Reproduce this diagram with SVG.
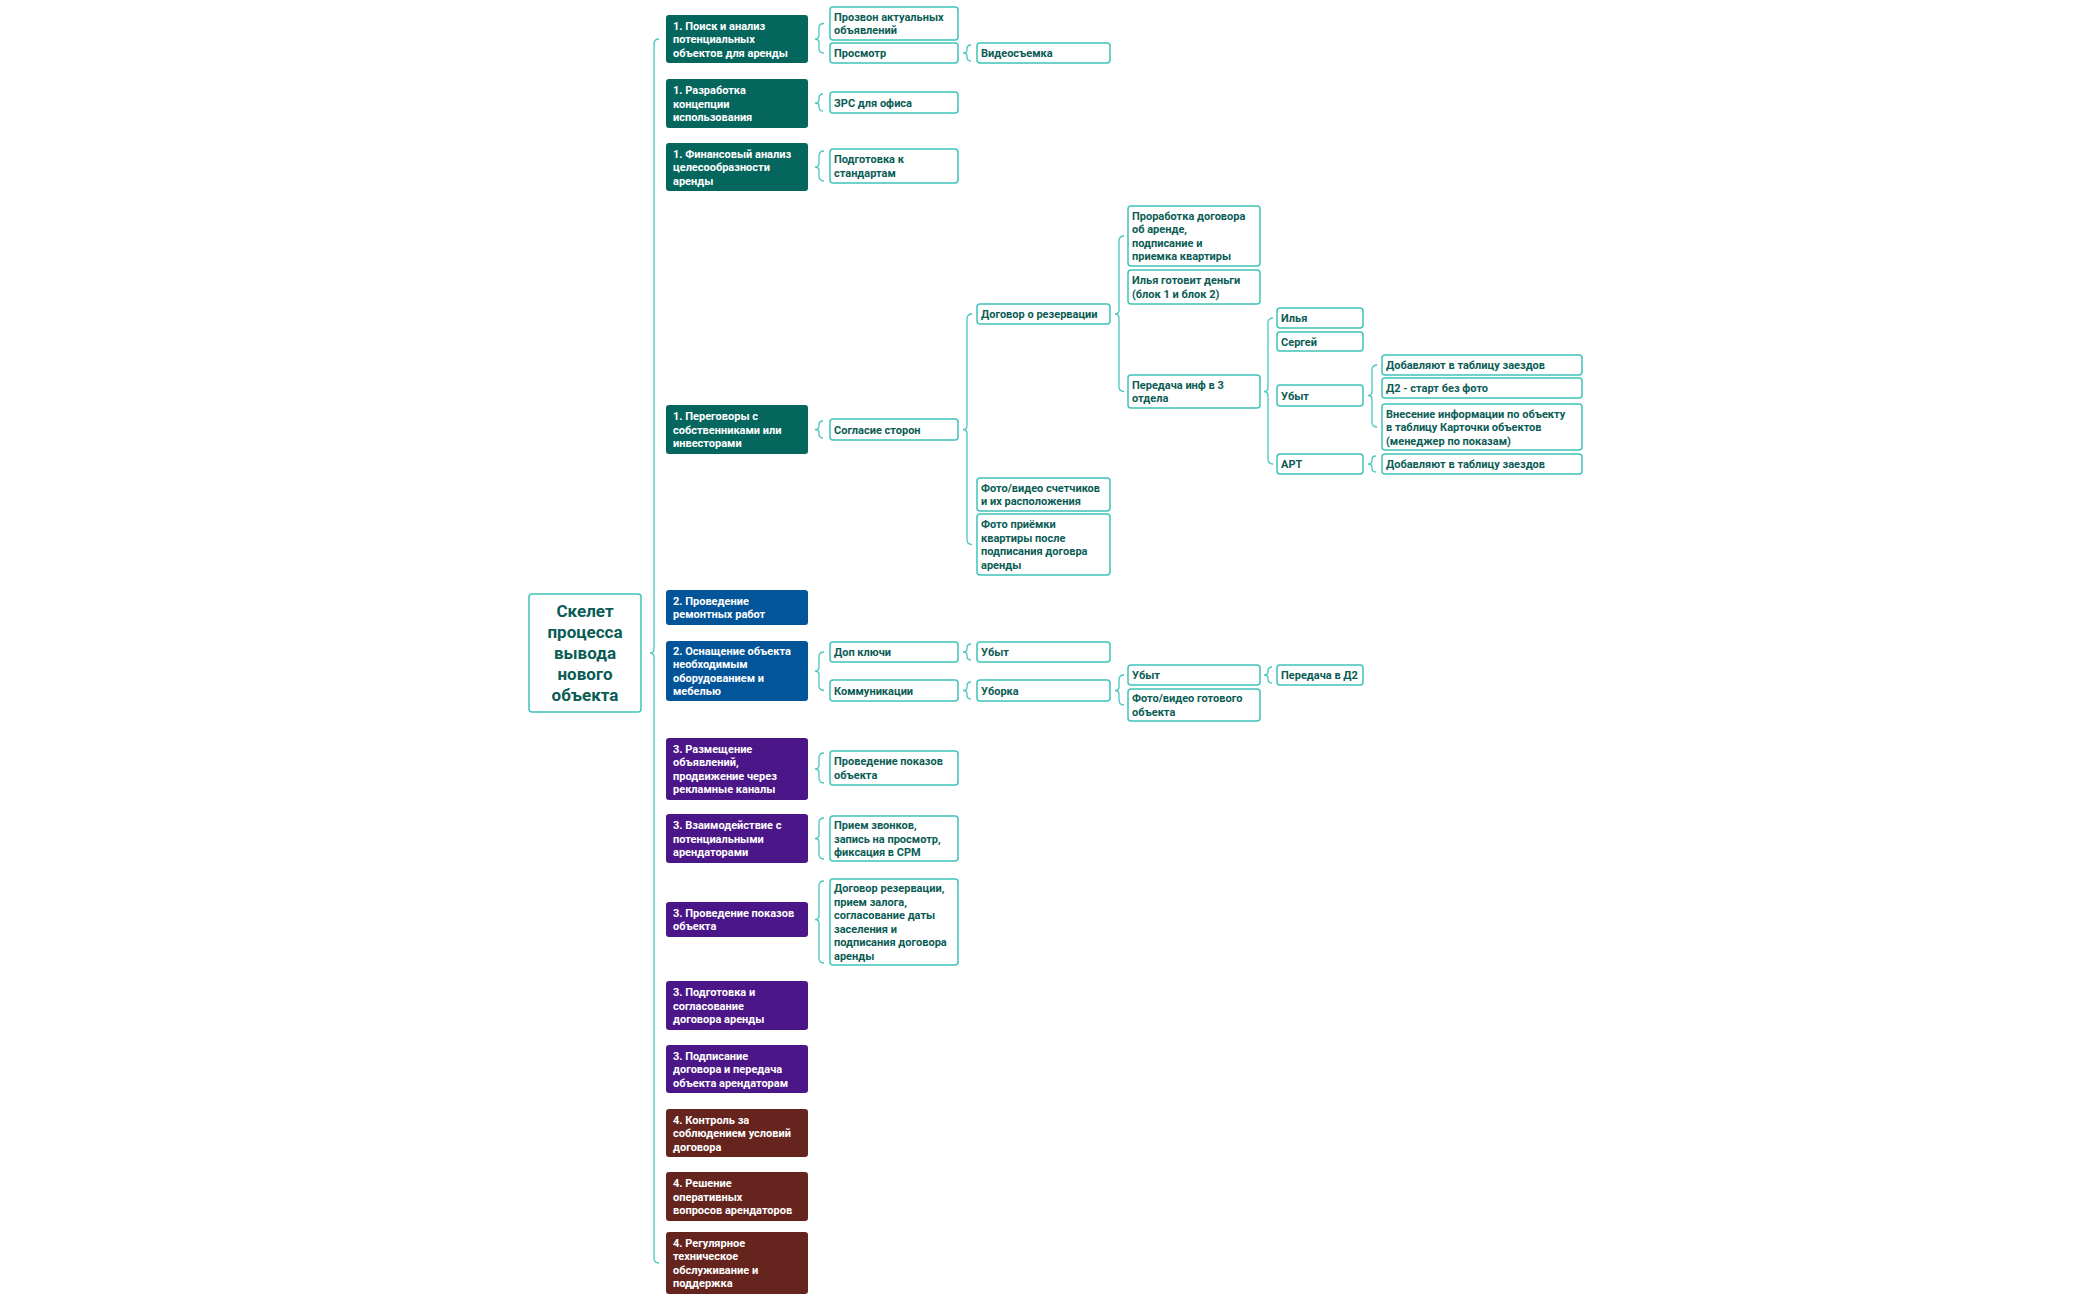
<svg xmlns="http://www.w3.org/2000/svg" width="2100" height="1299" viewBox="0 0 2100 1299">
<style>
.m{stroke:none}
.g{fill:#05665e}.b{fill:#03559a}.p{fill:#4b1688}.r{fill:#65251e}
.c{fill:#fff;stroke:#3fc4bb;stroke-width:1.5}
.mt{font-family:Roboto,"Noto Sans",sans-serif;font-weight:700;font-size:11px;fill:#fff}
.ct{font-family:Roboto,"Noto Sans",sans-serif;font-weight:700;font-size:11px;fill:#0a5c55}
.rt{font-family:Roboto,"Noto Sans",sans-serif;font-weight:700;font-size:17px;fill:#0a5c55}
.br{fill:none;stroke:#45c8be;stroke-width:1.3}
</style>
<rect width="2100" height="1299" fill="#fff"/>
<g id="connectors">
<path class="br" d="M659,39 Q654,39 654,44 L654,649 Q654,653 650,653 Q654,653 654,657 L654,1258 Q654,1263 659,1263"/>
<path class="br" d="M824,23.5 Q819,23.5 819,27.5 L819,35 Q819,39 815,39 Q819,39 819,43 L819,49 Q819,53 824,53"/>
<path class="br" d="M823,94 Q819,94 819,98 L819,100 Q819,103 815,103 Q819,103 819,106 L819,107 Q819,111 823,111"/>
<path class="br" d="M824,151 Q819,151 819,156 L819,163 Q819,167 815,167 Q819,167 819,171 L819,176 Q819,181 824,181"/>
<path class="br" d="M823,421 Q819,421 819,425 L819,426.5 Q819,429.5 815,429.5 Q819,429.5 819,432.5 L819,434 Q819,438 823,438"/>
<path class="br" d="M824,652 Q819,652 819,657 L819,667 Q819,671 815,671 Q819,671 819,675 L819,685.5 Q819,690.5 824,690.5"/>
<path class="br" d="M824,753 Q819,753 819,758 L819,765 Q819,769 815,769 Q819,769 819,773 L819,778 Q819,783 824,783"/>
<path class="br" d="M824,818 Q819,818 819,823 L819,834.5 Q819,838.5 815,838.5 Q819,838.5 819,842.5 L819,854 Q819,859 824,859"/>
<path class="br" d="M824,881 Q819,881 819,886 L819,915.5 Q819,919.5 815,919.5 Q819,919.5 819,923.5 L819,958 Q819,963 824,963"/>
<path class="br" d="M971,45 Q967,45 967,49 L967,50 Q967,53 963,53 Q967,53 967,56 L967,57 Q967,61 971,61"/>
<path class="br" d="M972,314 Q967,314 967,319 L967,425.5 Q967,429.5 963,429.5 Q967,429.5 967,433.5 L967,539.5 Q967,544.5 972,544.5"/>
<path class="br" d="M971,644 Q967,644 967,648 L967,649 Q967,652 963,652 Q967,652 967,655 L967,656 Q967,660 971,660"/>
<path class="br" d="M971,682 Q967,682 967,686 L967,687.5 Q967,690.5 963,690.5 Q967,690.5 967,693.5 L967,695 Q967,699 971,699"/>
<path class="br" d="M1124,236 Q1119,236 1119,241 L1119,310 Q1119,314 1115,314 Q1119,314 1119,318 L1119,386.5 Q1119,391.5 1124,391.5"/>
<path class="br" d="M1124,675 Q1119,675 1119,680 L1119,686.5 Q1119,690.5 1115,690.5 Q1119,690.5 1119,694.5 L1119,700 Q1119,705 1124,705"/>
<path class="br" d="M1273,318 Q1268,318 1268,323 L1268,387.5 Q1268,391.5 1264,391.5 Q1268,391.5 1268,395.5 L1268,459 Q1268,464 1273,464"/>
<path class="br" d="M1272,667 Q1268,667 1268,671 L1268,672 Q1268,675 1264,675 Q1268,675 1268,678 L1268,679 Q1268,683 1272,683"/>
<path class="br" d="M1377,365 Q1372,365 1372,370 L1372,391.5 Q1372,395.5 1368,395.5 Q1372,395.5 1372,399.5 L1372,422 Q1372,427 1377,427"/>
<path class="br" d="M1376,456 Q1372,456 1372,460 L1372,461 Q1372,464 1368,464 Q1372,464 1372,467 L1372,468 Q1372,472 1376,472"/>
</g>
<g id="root"><rect class="c" x="529" y="594" width="112" height="118" rx="3"/>
<text class="rt" x="585" y="617" text-anchor="middle"><tspan x="585">Скелет</tspan><tspan x="585" dy="21">процесса</tspan><tspan x="585" dy="21">вывода</tspan><tspan x="585" dy="21">нового</tspan><tspan x="585" dy="21">объекта</tspan></text></g>
<g id="m1"><rect class="g" x="666" y="15" width="142" height="48" rx="3"/><text class="mt" y="29.5"><tspan x="673">1. Поиск и анализ</tspan><tspan x="673" dy="13.5">потенциальных</tspan><tspan x="673" dy="13.5">объектов для аренды</tspan></text></g>
<g id="m2"><rect class="g" x="666" y="79" width="142" height="49" rx="3"/><text class="mt" y="94"><tspan x="673">1. Разработка</tspan><tspan x="673" dy="13.5">концепции</tspan><tspan x="673" dy="13.5">использования</tspan></text></g>
<g id="m3"><rect class="g" x="666" y="143" width="142" height="48" rx="3"/><text class="mt" y="157.5"><tspan x="673">1. Финансовый анализ</tspan><tspan x="673" dy="13.5">целесообразности</tspan><tspan x="673" dy="13.5">аренды</tspan></text></g>
<g id="m4"><rect class="g" x="666" y="405" width="142" height="49" rx="3"/><text class="mt" y="420"><tspan x="673">1. Переговоры с</tspan><tspan x="673" dy="13.5">собственниками или</tspan><tspan x="673" dy="13.5">инвесторами</tspan></text></g>
<g id="m5"><rect class="b" x="666" y="590" width="142" height="35" rx="3"/><text class="mt" y="604.75"><tspan x="673">2. Проведение</tspan><tspan x="673" dy="13.5">ремонтных работ</tspan></text></g>
<g id="m6"><rect class="b" x="666" y="641" width="142" height="60" rx="3"/><text class="mt" y="654.75"><tspan x="673">2. Оснащение объекта</tspan><tspan x="673" dy="13.5">необходимым</tspan><tspan x="673" dy="13.5">оборудованием и</tspan><tspan x="673" dy="13.5">мебелью</tspan></text></g>
<g id="m7"><rect class="p" x="666" y="738" width="142" height="62" rx="3"/><text class="mt" y="752.75"><tspan x="673">3. Размещение</tspan><tspan x="673" dy="13.5">объявлений,</tspan><tspan x="673" dy="13.5">продвижение через</tspan><tspan x="673" dy="13.5">рекламные каналы</tspan></text></g>
<g id="m8"><rect class="p" x="666" y="814" width="142" height="49" rx="3"/><text class="mt" y="829"><tspan x="673">3. Взаимодействие с</tspan><tspan x="673" dy="13.5">потенциальными</tspan><tspan x="673" dy="13.5">арендаторами</tspan></text></g>
<g id="m9"><rect class="p" x="666" y="902" width="142" height="35" rx="3"/><text class="mt" y="916.75"><tspan x="673">3. Проведение показов</tspan><tspan x="673" dy="13.5">объекта</tspan></text></g>
<g id="m10"><rect class="p" x="666" y="981" width="142" height="49" rx="3"/><text class="mt" y="996"><tspan x="673">3. Подготовка и</tspan><tspan x="673" dy="13.5">согласование</tspan><tspan x="673" dy="13.5">договора аренды</tspan></text></g>
<g id="m11"><rect class="p" x="666" y="1045" width="142" height="48" rx="3"/><text class="mt" y="1059.5"><tspan x="673">3. Подписание</tspan><tspan x="673" dy="13.5">договора и передача</tspan><tspan x="673" dy="13.5">объекта арендаторам</tspan></text></g>
<g id="m12"><rect class="r" x="666" y="1109" width="142" height="48" rx="3"/><text class="mt" y="1123.5"><tspan x="673">4. Контроль за</tspan><tspan x="673" dy="13.5">соблюдением условий</tspan><tspan x="673" dy="13.5">договора</tspan></text></g>
<g id="m13"><rect class="r" x="666" y="1172" width="142" height="49" rx="3"/><text class="mt" y="1187"><tspan x="673">4. Решение</tspan><tspan x="673" dy="13.5">оперативных</tspan><tspan x="673" dy="13.5">вопросов арендаторов</tspan></text></g>
<g id="m14"><rect class="r" x="666" y="1232" width="142" height="62" rx="3"/><text class="mt" y="1246.75"><tspan x="673">4. Регулярное</tspan><tspan x="673" dy="13.5">техническое</tspan><tspan x="673" dy="13.5">обслуживание и</tspan><tspan x="673" dy="13.5">поддержка</tspan></text></g>
<g id="c1"><rect class="c" x="830" y="7" width="128" height="33" rx="3"/><text class="ct" y="20.75"><tspan x="834">Прозвон актуальных</tspan><tspan x="834" dy="13.5">объявлений</tspan></text></g>
<g id="c2"><rect class="c" x="830" y="43" width="128" height="20" rx="3"/><text class="ct" x="834" y="57">Просмотр</text></g>
<g id="c3"><rect class="c" x="977" y="43" width="133" height="20" rx="3"/><text class="ct" x="981" y="57">Видеосъемка</text></g>
<g id="c4"><rect class="c" x="830" y="92" width="128" height="21" rx="3"/><text class="ct" x="834" y="106.5">ЗРС для офиса</text></g>
<g id="c5"><rect class="c" x="830" y="149" width="128" height="34" rx="3"/><text class="ct" y="163.25"><tspan x="834">Подготовка к</tspan><tspan x="834" dy="13.5">стандартам</tspan></text></g>
<g id="c6"><rect class="c" x="830" y="419" width="128" height="21" rx="3"/><text class="ct" x="834" y="433.5">Согласие сторон</text></g>
<g id="c7"><rect class="c" x="977" y="304" width="133" height="20" rx="3"/><text class="ct" x="981" y="318">Договор о резервации</text></g>
<g id="c8"><rect class="c" x="977" y="478" width="133" height="33" rx="3"/><text class="ct" y="491.75"><tspan x="981">Фото/видео счетчиков</tspan><tspan x="981" dy="13.5">и их расположения</tspan></text></g>
<g id="c9"><rect class="c" x="977" y="514" width="133" height="61" rx="3"/><text class="ct" y="528.25"><tspan x="981">Фото приёмки</tspan><tspan x="981" dy="13.5">квартиры после</tspan><tspan x="981" dy="13.5">подписания договра</tspan><tspan x="981" dy="13.5">аренды</tspan></text></g>
<g id="c10"><rect class="c" x="1128" y="206" width="132" height="60" rx="3"/><text class="ct" y="219.75"><tspan x="1132">Проработка договора</tspan><tspan x="1132" dy="13.5">об аренде,</tspan><tspan x="1132" dy="13.5">подписание  и</tspan><tspan x="1132" dy="13.5">приемка квартиры</tspan></text></g>
<g id="c11"><rect class="c" x="1128" y="270" width="132" height="34" rx="3"/><text class="ct" y="284.25"><tspan x="1132">Илья готовит деньги</tspan><tspan x="1132" dy="13.5">(блок 1 и блок 2)</tspan></text></g>
<g id="c12"><rect class="c" x="1128" y="375" width="132" height="33" rx="3"/><text class="ct" y="388.75"><tspan x="1132">Передача инф в 3</tspan><tspan x="1132" dy="13.5">отдела</tspan></text></g>
<g id="c13"><rect class="c" x="1277" y="308" width="86" height="20" rx="3"/><text class="ct" x="1281" y="322">Илья</text></g>
<g id="c14"><rect class="c" x="1277" y="332" width="86" height="19" rx="3"/><text class="ct" x="1281" y="345.5">Сергей</text></g>
<g id="c15"><rect class="c" x="1277" y="385" width="86" height="21" rx="3"/><text class="ct" x="1281" y="399.5">Убыт</text></g>
<g id="c16"><rect class="c" x="1277" y="454" width="86" height="20" rx="3"/><text class="ct" x="1281" y="468">АРТ</text></g>
<g id="c17"><rect class="c" x="1382" y="355" width="200" height="20" rx="3"/><text class="ct" x="1386" y="369">Добавляют в таблицу заездов</text></g>
<g id="c18"><rect class="c" x="1382" y="378" width="200" height="20" rx="3"/><text class="ct" x="1386" y="392">Д2 - старт без фото</text></g>
<g id="c19"><rect class="c" x="1382" y="404" width="200" height="46" rx="3"/><text class="ct" y="417.5"><tspan x="1386">Внесение информации по объекту</tspan><tspan x="1386" dy="13.5">в таблицу Карточки объектов</tspan><tspan x="1386" dy="13.5">(менеджер по показам)</tspan></text></g>
<g id="c20"><rect class="c" x="1382" y="454" width="200" height="20" rx="3"/><text class="ct" x="1386" y="468">Добавляют в таблицу заездов</text></g>
<g id="c21"><rect class="c" x="830" y="642" width="128" height="20" rx="3"/><text class="ct" x="834" y="656">Доп ключи</text></g>
<g id="c22"><rect class="c" x="830" y="680" width="128" height="21" rx="3"/><text class="ct" x="834" y="694.5">Коммуникации</text></g>
<g id="c23"><rect class="c" x="977" y="642" width="133" height="20" rx="3"/><text class="ct" x="981" y="656">Убыт</text></g>
<g id="c24"><rect class="c" x="977" y="680" width="133" height="21" rx="3"/><text class="ct" x="981" y="694.5">Уборка</text></g>
<g id="c25"><rect class="c" x="1128" y="665" width="132" height="20" rx="3"/><text class="ct" x="1132" y="679">Убыт</text></g>
<g id="c26"><rect class="c" x="1128" y="689" width="132" height="32" rx="3"/><text class="ct" y="702.25"><tspan x="1132">Фото/видео готового</tspan><tspan x="1132" dy="13.5">объекта</tspan></text></g>
<g id="c27"><rect class="c" x="1277" y="665" width="86" height="20" rx="3"/><text class="ct" x="1281" y="679">Передача в Д2</text></g>
<g id="c28"><rect class="c" x="830" y="751" width="128" height="34" rx="3"/><text class="ct" y="765.25"><tspan x="834">Проведение показов</tspan><tspan x="834" dy="13.5">объекта</tspan></text></g>
<g id="c29"><rect class="c" x="830" y="816" width="128" height="45" rx="3"/><text class="ct" y="829"><tspan x="834">Прием звонков,</tspan><tspan x="834" dy="13.5">запись на просмотр,</tspan><tspan x="834" dy="13.5">фиксация в СРМ</tspan></text></g>
<g id="c30"><rect class="c" x="830" y="879" width="128" height="86" rx="3"/><text class="ct" y="892.25"><tspan x="834">Договор резервации,</tspan><tspan x="834" dy="13.5">прием залога,</tspan><tspan x="834" dy="13.5">согласование даты</tspan><tspan x="834" dy="13.5">заселения и</tspan><tspan x="834" dy="13.5">подписания договора</tspan><tspan x="834" dy="13.5">аренды</tspan></text></g>
</svg>
